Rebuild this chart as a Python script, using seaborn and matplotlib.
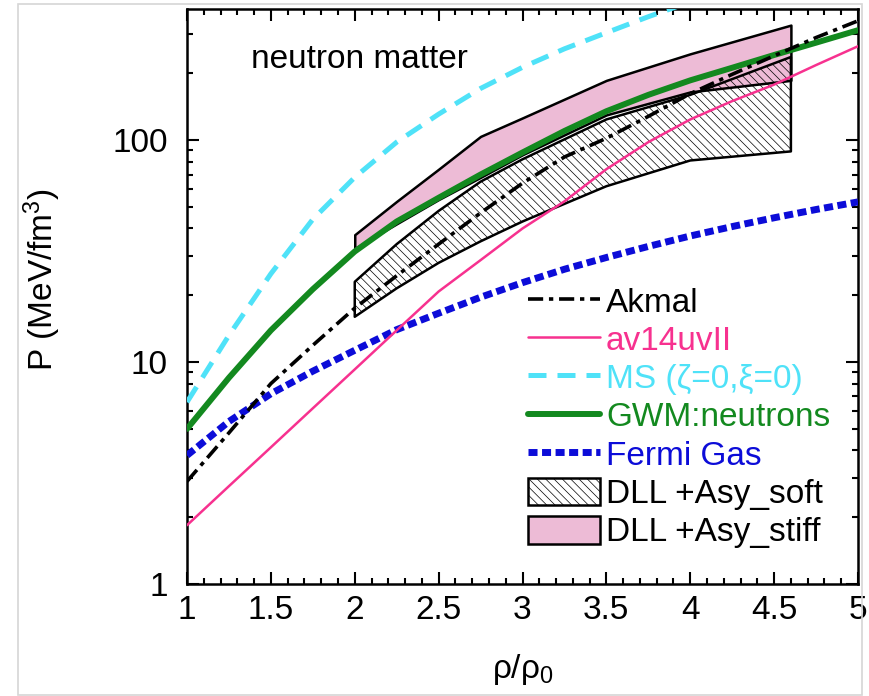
import numpy as np
import pandas as pd
import matplotlib
matplotlib.use("Agg")
import matplotlib.pyplot as plt
import seaborn as sns
from matplotlib.patches import Patch, Rectangle
from matplotlib.lines import Line2D
from matplotlib.ticker import MultipleLocator, LogLocator, NullFormatter

# ---------------- data ----------------
rho = [1.0, 1.25, 1.5, 1.75, 2.0, 2.25, 2.5, 2.75, 3.0, 3.25, 3.5, 3.75, 4.0, 4.25, 4.5, 4.75, 5.0]
akmal = [2.9, 4.8, 8.0, 11.9, 17.5, 24.5, 34, 47, 64, 84, 102, 128, 162, 198, 240, 290, 345]
av14uvII = [1.84, 2.76, 4.13, 6.19, 9.27, 13.9, 20.8, 28.8, 40, 53, 74, 98, 124, 150, 178, 218, 265]
gwm = [5.0, 8.5, 13.9, 21.3, 31.5, 43, 55, 70, 88, 110, 135, 160, 186, 212, 242, 275, 313]
fermi = [3.8, 5.4, 7.2, 9.1, 11.3, 14.0, 16.6, 19.6, 22.8, 26.2, 29.6, 33.2, 37.0, 40.8, 44.7, 48.7, 52.7]

rho_ms = [1.0, 1.25, 1.5, 1.75, 2.0, 2.25, 2.5, 2.75, 3.0, 3.25, 3.5, 3.75, 4.0]
ms = [6.6, 13.2, 25, 44, 68, 98, 131, 171, 213, 258, 305, 360, 420]

rho_band = [2.0, 2.25, 2.5, 2.75, 3.0, 3.5, 4.0, 4.6]
stiff_hi = [37.5, 53, 74, 104, 126, 186, 245, 330]
stiff_lo = [32.5, 42, 54, 68, 86, 130, 165, 186]
soft_hi = [23, 34, 48, 65, 82, 124, 160, 237]
soft_lo = [16, 21.5, 28, 35, 43, 62, 81, 89]

labels = ["Akmal", "av14uvII", "MS (\u03b6=0,\u03be=0)", "GWM:neutrons", "Fermi Gas",
          "DLL +Asy_soft", "DLL +Asy_stiff"]
x_ticks = [1, 1.5, 2, 2.5, 3, 3.5, 4, 4.5, 5]
x_tick_labels = ["1", "1.5", "2", "2.5", "3", "3.5", "4", "4.5", "5"]
y_ticks = [1, 10, 100]
y_tick_labels = ["1", "10", "100"]

# ---------------- styling ----------------
C_AKMAL = "black"
C_AV14 = "#f7318f"
C_MS = "#4fe2f8"
C_GWM = "#13891f"
C_FERMI = "#0c0cd8"
C_PINK = "#edbbd6"

sns.set_theme(style="ticks")
plt.rcParams["font.family"] = ["Liberation Sans", "DejaVu Sans"]
plt.rcParams["mathtext.default"] = "regular"
plt.rcParams["hatch.linewidth"] = 0.5

W, H = 869, 696
fig = plt.figure(figsize=(W / 100, H / 100), dpi=100)
fig.patch.set_facecolor("white")
ax = fig.add_axes([187 / W, 1 - 584 / H, 671 / W, 575 / H])
ax.set_yscale("log")

df = pd.DataFrame({"rho": rho, "akmal": akmal, "av14": av14uvII, "gwm": gwm, "fermi": fermi})
df_ms = pd.DataFrame({"rho": rho_ms, "ms": ms})

# bands
ax.fill_between(rho_band, stiff_lo, stiff_hi, facecolor=C_PINK, edgecolor="black",
                linewidth=1.8, zorder=2)
ax.fill_between(rho_band, soft_lo, soft_hi, facecolor="none", edgecolor="black",
                hatch="\\\\\\\\", linewidth=1.8, zorder=2.5)

ls_akmal = (0, (4.2, 1.6, 1.2, 1.6))
ls_ms = (0, (3.6, 2.2))
ls_fermi = (0, (1.3, 0.65))

sns.lineplot(data=df_ms, x="rho", y="ms", ax=ax, color=C_MS, linewidth=3.6,
             linestyle=ls_ms, zorder=3)
sns.lineplot(data=df, x="rho", y="fermi", ax=ax, color=C_FERMI, linewidth=5,
             linestyle=ls_fermi, zorder=3)
sns.lineplot(data=df, x="rho", y="av14", ax=ax, color=C_AV14, linewidth=1.8, zorder=3.5)
sns.lineplot(data=df, x="rho", y="gwm", ax=ax, color=C_GWM, linewidth=4.3, zorder=3.2)
sns.lineplot(data=df, x="rho", y="akmal", ax=ax, color=C_AKMAL, linewidth=2.6,
             linestyle=ls_akmal, zorder=4)

ax.set_xlim(1, 5)
ax.set_ylim(1, 390)

# ticks
ax.set_xticks(x_ticks, labels=x_tick_labels)
ax.xaxis.set_minor_locator(MultipleLocator(0.1))
ax.set_yticks(y_ticks, labels=y_tick_labels)
ax.yaxis.set_minor_locator(LogLocator(base=10, subs=np.arange(2, 10)))
ax.yaxis.set_minor_formatter(NullFormatter())
ax.tick_params(which="both", direction="in", top=True, right=True, color="black",
               width=1.5, labelsize=24, labelcolor="black")
ax.tick_params(which="major", length=8.5)
ax.tick_params(which="minor", length=4.5)
ax.tick_params(axis="x", which="major", pad=8)
ax.tick_params(axis="y", which="major", pad=14)
for s in ax.spines.values():
    s.set_linewidth(1.8)
    s.set_color("black")
    s.set_visible(True)

ax.set_xlabel("\u03c1/\u03c1$_0$", fontsize=24, color="black")
ax.xaxis.set_label_coords(0.5, -0.118)
ax.set_ylabel(r"P (MeV/fm$^3$)", fontsize=24, color="black", va="center")
ax.yaxis.set_label_coords(-0.216, 0.53)

ax.text(0.095, 0.897, "neutron matter", transform=ax.transAxes, fontsize=24,
        color="black", va="baseline", ha="left")

# legend
handles = [
    Line2D([], [], color=C_AKMAL, linewidth=2.6, linestyle=ls_akmal),
    Line2D([], [], color=C_AV14, linewidth=1.8),
    Line2D([], [], color=C_MS, linewidth=3.6, linestyle=ls_ms),
    Line2D([], [], color=C_GWM, linewidth=4.3),
    Line2D([], [], color=C_FERMI, linewidth=5, linestyle=ls_fermi),
    Patch(facecolor="white", edgecolor="black", hatch="\\\\\\\\", linewidth=1.8),
    Patch(facecolor=C_PINK, edgecolor="black", linewidth=1.8),
]
text_colors = [C_AKMAL, C_AV14, C_MS, C_GWM, C_FERMI, "black", "black"]
LEG_FS = 24


def make_legend(spacing, anchor):
    lg = ax.legend(handles, labels, loc="upper left",
                   bbox_to_anchor=anchor, bbox_transform=fig.transFigure,
                   frameon=False, fontsize=LEG_FS, borderpad=0, borderaxespad=0,
                   handlelength=2.16, handleheight=0.9, handletextpad=0.18,
                   labelspacing=spacing)
    for t, c in zip(lg.get_texts(), text_colors):
        t.set_color(c)
    return lg


def row_centers(lg, renderer):
    out = []
    for t in lg.get_texts():
        bb = t.get_window_extent(renderer)
        out.append((bb.y0 + bb.y1) / 2)
    return out


anchor = (528 / W, 1 - 286 / H)
spacing = 0.15
leg = make_legend(spacing, anchor)
fig.canvas.draw()
renderer = fig.canvas.get_renderer()
c = row_centers(leg, renderer)
measured = (c[0] - c[-1]) / 6
spacing = spacing + (38.3 - measured) / (LEG_FS * 100 / 72)
leg.remove()
leg = make_legend(spacing, anchor)
fig.canvas.draw()
c = row_centers(leg, renderer)
dy = (H - 303) - c[0]
box = leg.legend_handles[5].get_window_extent(renderer)
dx = 528 - box.x0
leg.remove()
leg = make_legend(spacing, (anchor[0] + dx / W, anchor[1] + dy / H))

# light frame around the whole picture
fig.patches.append(Rectangle((18 / W, 1 / H), 844 / W, 691 / H,
                             transform=fig.transFigure, fill=False,
                             edgecolor="#d6d6d6", linewidth=1.2))

fig.savefig("out.png", dpi=100, facecolor="white")
